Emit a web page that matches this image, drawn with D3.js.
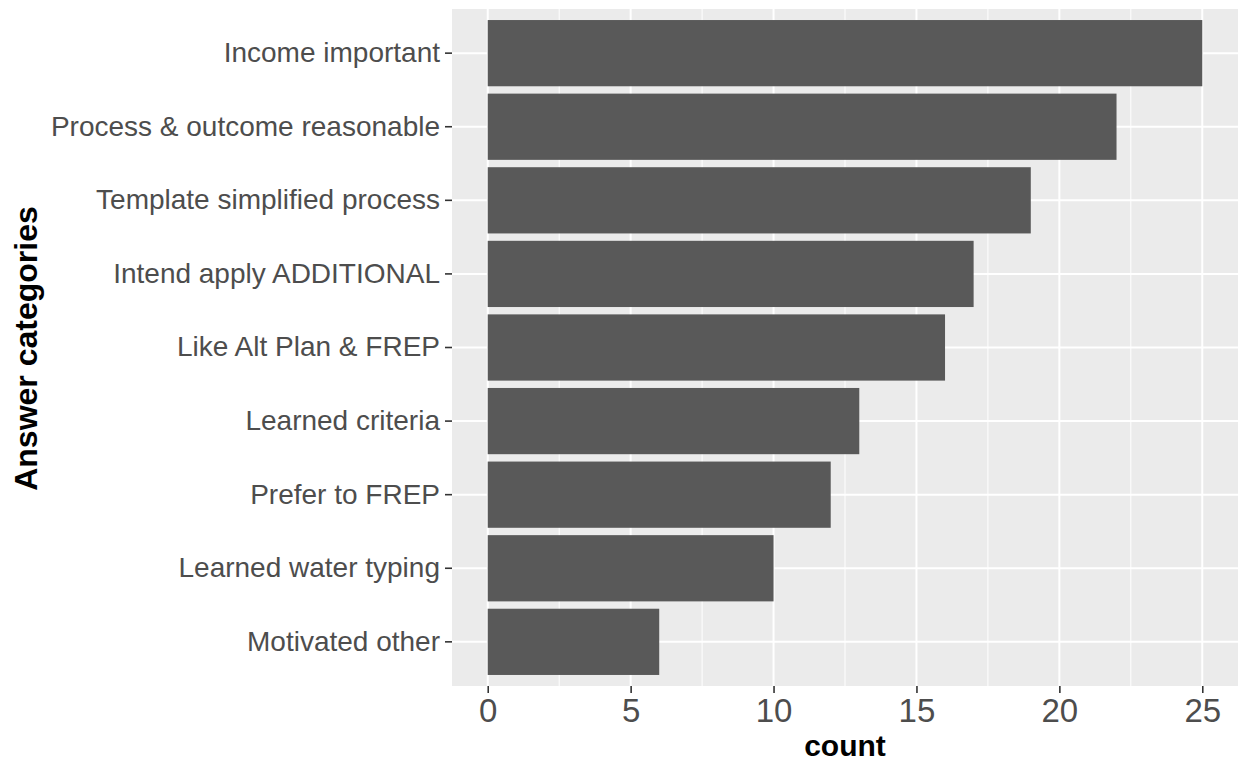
<!DOCTYPE html>
<html>
<head>
<meta charset="utf-8">
<script src="https://cdn.jsdelivr.net/npm/d3@7"></script>
<style>
  html, body { margin: 0; padding: 0; background: #ffffff; }
  svg { display: block; font-family: "Liberation Sans", Arial, Helvetica, sans-serif; }
</style>
</head>
<body>
<svg id="chart" width="1238" height="763"></svg>
<script>
// Answer categories, top to bottom, with their counts
const categories = [
  "Income important",
  "Process & outcome reasonable",
  "Template simplified process",
  "Intend apply ADDITIONAL",
  "Like Alt Plan & FREP",
  "Learned criteria",
  "Prefer to FREP",
  "Learned water typing",
  "Motivated other"
];
const counts = [25, 22, 19, 17, 16, 13, 12, 10, 6];
const xTicks = [0, 5, 10, 15, 20, 25];
const xMinorTicks = [2.5, 7.5, 12.5, 17.5, 22.5];

const svg = d3.select("#chart");
const panel = { left: 452, right: 1238, top: 9, bottom: 686 };

// Continuous axis with ggplot-style 5% expansion around 0..25
const x = d3.scaleLinear().domain([-1.25, 26.25]).range([panel.left, panel.right]);
// Discrete axis: 0.6 step of padding at each end, bars 0.9 of a step
const y = d3.scaleBand().domain(categories).range([panel.top, panel.bottom])
  .paddingInner(0.1).paddingOuter(0.15);

const data = categories.map((c, i) => ({ category: c, count: counts[i] }));

// Panel background
svg.append("rect")
  .attr("x", panel.left).attr("y", panel.top)
  .attr("width", panel.right - panel.left).attr("height", panel.bottom - panel.top)
  .attr("fill", "#EBEBEB");

const grid = svg.append("g");
// Minor vertical grid lines
grid.selectAll("line.minor").data(xMinorTicks).join("line")
  .attr("class", "minor")
  .attr("x1", d => x(d)).attr("x2", d => x(d))
  .attr("y1", panel.top).attr("y2", panel.bottom)
  .attr("stroke", "#ffffff").attr("stroke-width", 1);
// Major vertical grid lines
grid.selectAll("line.majorx").data(xTicks).join("line")
  .attr("class", "majorx")
  .attr("x1", d => x(d)).attr("x2", d => x(d))
  .attr("y1", panel.top).attr("y2", panel.bottom)
  .attr("stroke", "#ffffff").attr("stroke-width", 2);
// Major horizontal grid lines at each category
grid.selectAll("line.majory").data(categories).join("line")
  .attr("class", "majory")
  .attr("x1", panel.left).attr("x2", panel.right)
  .attr("y1", d => y(d) + y.bandwidth() / 2).attr("y2", d => y(d) + y.bandwidth() / 2)
  .attr("stroke", "#ffffff").attr("stroke-width", 2);

// Bars
svg.append("g").selectAll("rect").data(data).join("rect")
  .attr("x", x(0))
  .attr("y", d => y(d.category))
  .attr("width", d => x(d.count) - x(0))
  .attr("height", y.bandwidth())
  .attr("fill", "#595959");

// Y axis (category labels)
const yAxis = d3.axisLeft(y).tickSize(7).tickPadding(5);
const gy = svg.append("g").attr("transform", `translate(${panel.left},0)`).call(yAxis);
gy.select(".domain").remove();
gy.selectAll(".tick line").attr("stroke", "#333333").attr("stroke-width", 1.6);
gy.selectAll(".tick text")
  .attr("fill", "#4D4D4D")
  .style("font-size", "28px")
  .style("font-family", "'Liberation Sans', Arial, sans-serif");

// X axis (counts)
const xAxis = d3.axisBottom(x).tickValues(xTicks).tickSize(7).tickPadding(6);
const gx = svg.append("g").attr("transform", `translate(0,${panel.bottom})`).call(xAxis);
gx.select(".domain").remove();
gx.selectAll(".tick line").attr("stroke", "#333333").attr("stroke-width", 1.6);
gx.selectAll(".tick text")
  .attr("fill", "#4D4D4D")
  .style("font-size", "33px")
  .style("font-family", "'Liberation Sans', Arial, sans-serif");

// Axis titles
svg.append("text")
  .attr("x", (panel.left + panel.right) / 2).attr("y", 756)
  .attr("text-anchor", "middle")
  .style("font-size", "30px").style("font-weight", "bold")
  .attr("fill", "#000000")
  .text("count");

svg.append("text")
  .attr("transform", `translate(37,${(panel.top + panel.bottom) / 2 + 1}) rotate(-90)`)
  .attr("text-anchor", "middle")
  .style("font-size", "32px").style("font-weight", "bold")
  .attr("fill", "#000000")
  .text("Answer categories");
</script>
</body>
</html>
